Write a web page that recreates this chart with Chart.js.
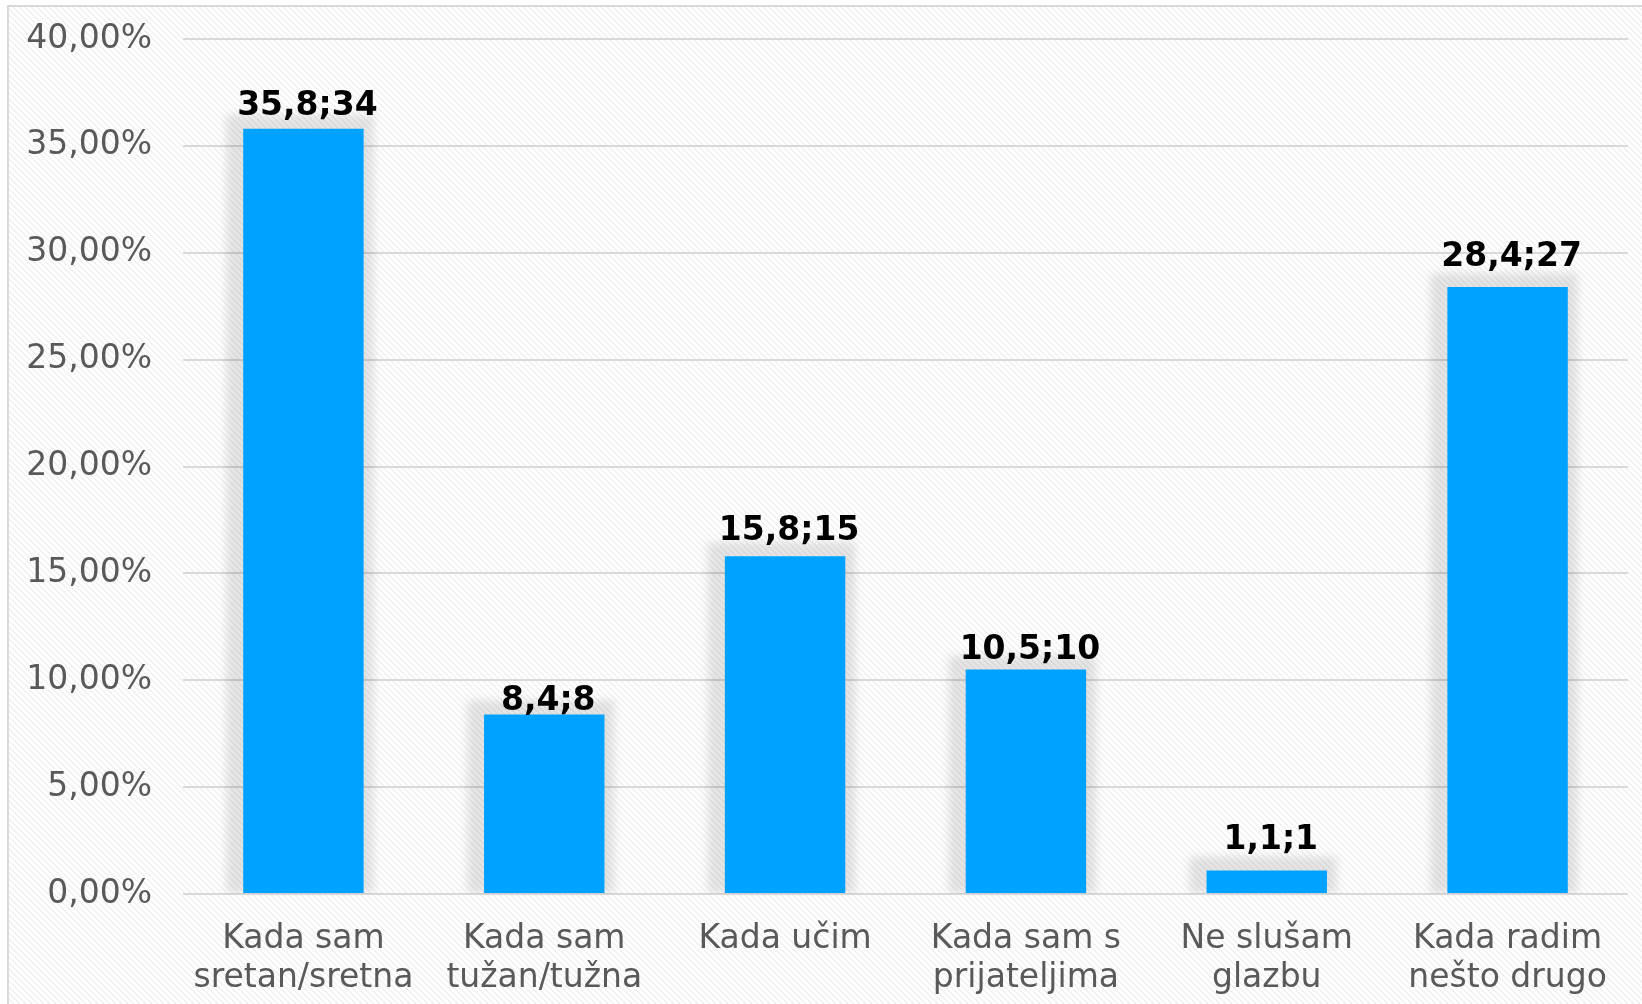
<!DOCTYPE html>
<html>
<head>
<meta charset="utf-8">
<script src="https://cdn.jsdelivr.net/npm/chart.js@4/dist/chart.umd.min.js"></script>
<style>
  html, body { margin: 0; padding: 0; background: #fff; }
  #wrap { width: 1642px; height: 1004px; }
</style>
</head>
<body>
<div id="wrap"><canvas id="chart" width="1642" height="1004"></canvas></div>
<script>
const categories = [
    ['Kada sam', 'sretan/sretna'],
    ['Kada sam', 'tužan/tužna'],
    ['Kada učim'],
    ['Kada sam s', 'prijateljima'],
    ['Ne slušam', 'glazbu'],
    ['Kada radim', 'nešto drugo']
];
const percents = [35.8, 8.4, 15.8, 10.5, 1.1, 28.4];
const counts = [34, 8, 15, 10, 1, 27];
const yTicks = [0, 5, 10, 15, 20, 25, 30, 35, 40];

// gap (px) between label baseline and bar top, labels were nudged by hand in the original
const labelGap = [14, 4, 16, 11, 21, 21];

const FONT = '"DejaVu Sans", Verdana, sans-serif';

// light diagonal hatch like the Excel chart area fill
function makeHatch() {
    const c = document.createElement('canvas');
    c.width = 6; c.height = 6;
    const g = c.getContext('2d');
    g.fillStyle = '#ffffff';
    g.fillRect(0, 0, 6, 6);
    g.strokeStyle = '#efefef';
    g.lineWidth = 1.3;
    g.beginPath();
    g.moveTo(-1, -1); g.lineTo(7, 7);
    g.moveTo(-7, -1); g.lineTo(1, 7);
    g.moveTo(5, -1); g.lineTo(13, 7);
    g.stroke();
    return c;
}

const backgroundPlugin = {
    id: 'background',
    beforeDraw(chart) {
        const ctx = chart.ctx;
        ctx.save();
        ctx.fillStyle = '#ffffff';
        ctx.fillRect(0, 0, chart.width, chart.height);
        ctx.fillStyle = ctx.createPattern(makeHatch(), 'repeat');
        ctx.fillRect(9, 7, chart.width - 9, chart.height - 7);
        ctx.strokeStyle = '#d9d9d9';
        ctx.lineWidth = 2;
        ctx.beginPath();
        ctx.moveTo(8, chart.height);
        ctx.lineTo(8, 6);
        ctx.lineTo(chart.width, 6);
        ctx.stroke();
        ctx.restore();
    }
};

// soft gray glow behind each bar, a bit heavier on the left
const shadowPlugin = {
    id: 'barShadow',
    beforeDatasetsDraw(chart) {
        const ctx = chart.ctx;
        const area = chart.chartArea;
        ctx.save();
        ctx.beginPath();
        ctx.rect(area.left, 0, area.right - area.left, area.bottom);
        ctx.clip();
        ctx.filter = 'blur(4px)';
        ctx.fillStyle = 'rgba(0,0,0,0.1)';
        chart.getDatasetMeta(0).data.forEach(bar => {
            const half = bar.width / 2;
            ctx.fillRect(bar.x - half - 17, bar.y - 14, bar.width + 27, bar.base - bar.y + 14);
        });
        ctx.restore();
    }
};

const labelPlugin = {
    id: 'valueLabels',
    afterDatasetsDraw(chart) {
        const ctx = chart.ctx;
        ctx.save();
        ctx.font = 'bold 33px ' + FONT;
        ctx.fillStyle = '#000000';
        ctx.textAlign = 'center';
        ctx.textBaseline = 'alphabetic';
        chart.getDatasetMeta(0).data.forEach((bar, i) => {
            const txt = String(percents[i]).replace('.', ',') + ';' + counts[i];
            ctx.fillText(txt, bar.x + 4, bar.y - labelGap[i]);
        });
        ctx.restore();
    }
};

new Chart(document.getElementById('chart'), {
    type: 'bar',
    data: {
        labels: categories,
        datasets: [{
            data: percents,
            backgroundColor: '#00a2ff',
            borderWidth: 0,
            categoryPercentage: 1,
            barPercentage: 0.5
        }]
    },
    options: {
        responsive: false,
        maintainAspectRatio: false,
        animation: false,
        plugins: { legend: { display: false }, tooltip: { enabled: false } },
        layout: { padding: { top: 39, right: 14, left: 0, bottom: 0 } },
        scales: {
            x: {
                grid: { display: false },
                border: { display: false },
                ticks: {
                    color: '#595959',
                    font: { family: FONT, size: 33, lineHeight: 1.18 },
                    padding: 18,
                    maxRotation: 0,
                    autoSkip: false
                },
                afterFit(scale) { scale.height = 110; }
            },
            y: {
                min: 0,
                max: 40,
                afterBuildTicks(scale) { scale.ticks = yTicks.map(v => ({ value: v })); },
                grid: { color: '#d9d9d9', lineWidth: 2, drawTicks: false },
                border: { display: false },
                ticks: {
                    color: '#595959',
                    font: { family: FONT, size: 33 },
                    padding: 31,
                    callback: v => v.toFixed(2).replace('.', ',') + '%'
                },
                afterFit(scale) {
                    scale.width = 183;
                    scale.paddingTop = 0;
                    scale.paddingBottom = 0;
                }
            }
        }
    },
    plugins: [backgroundPlugin, shadowPlugin, labelPlugin]
});
</script>
</body>
</html>
